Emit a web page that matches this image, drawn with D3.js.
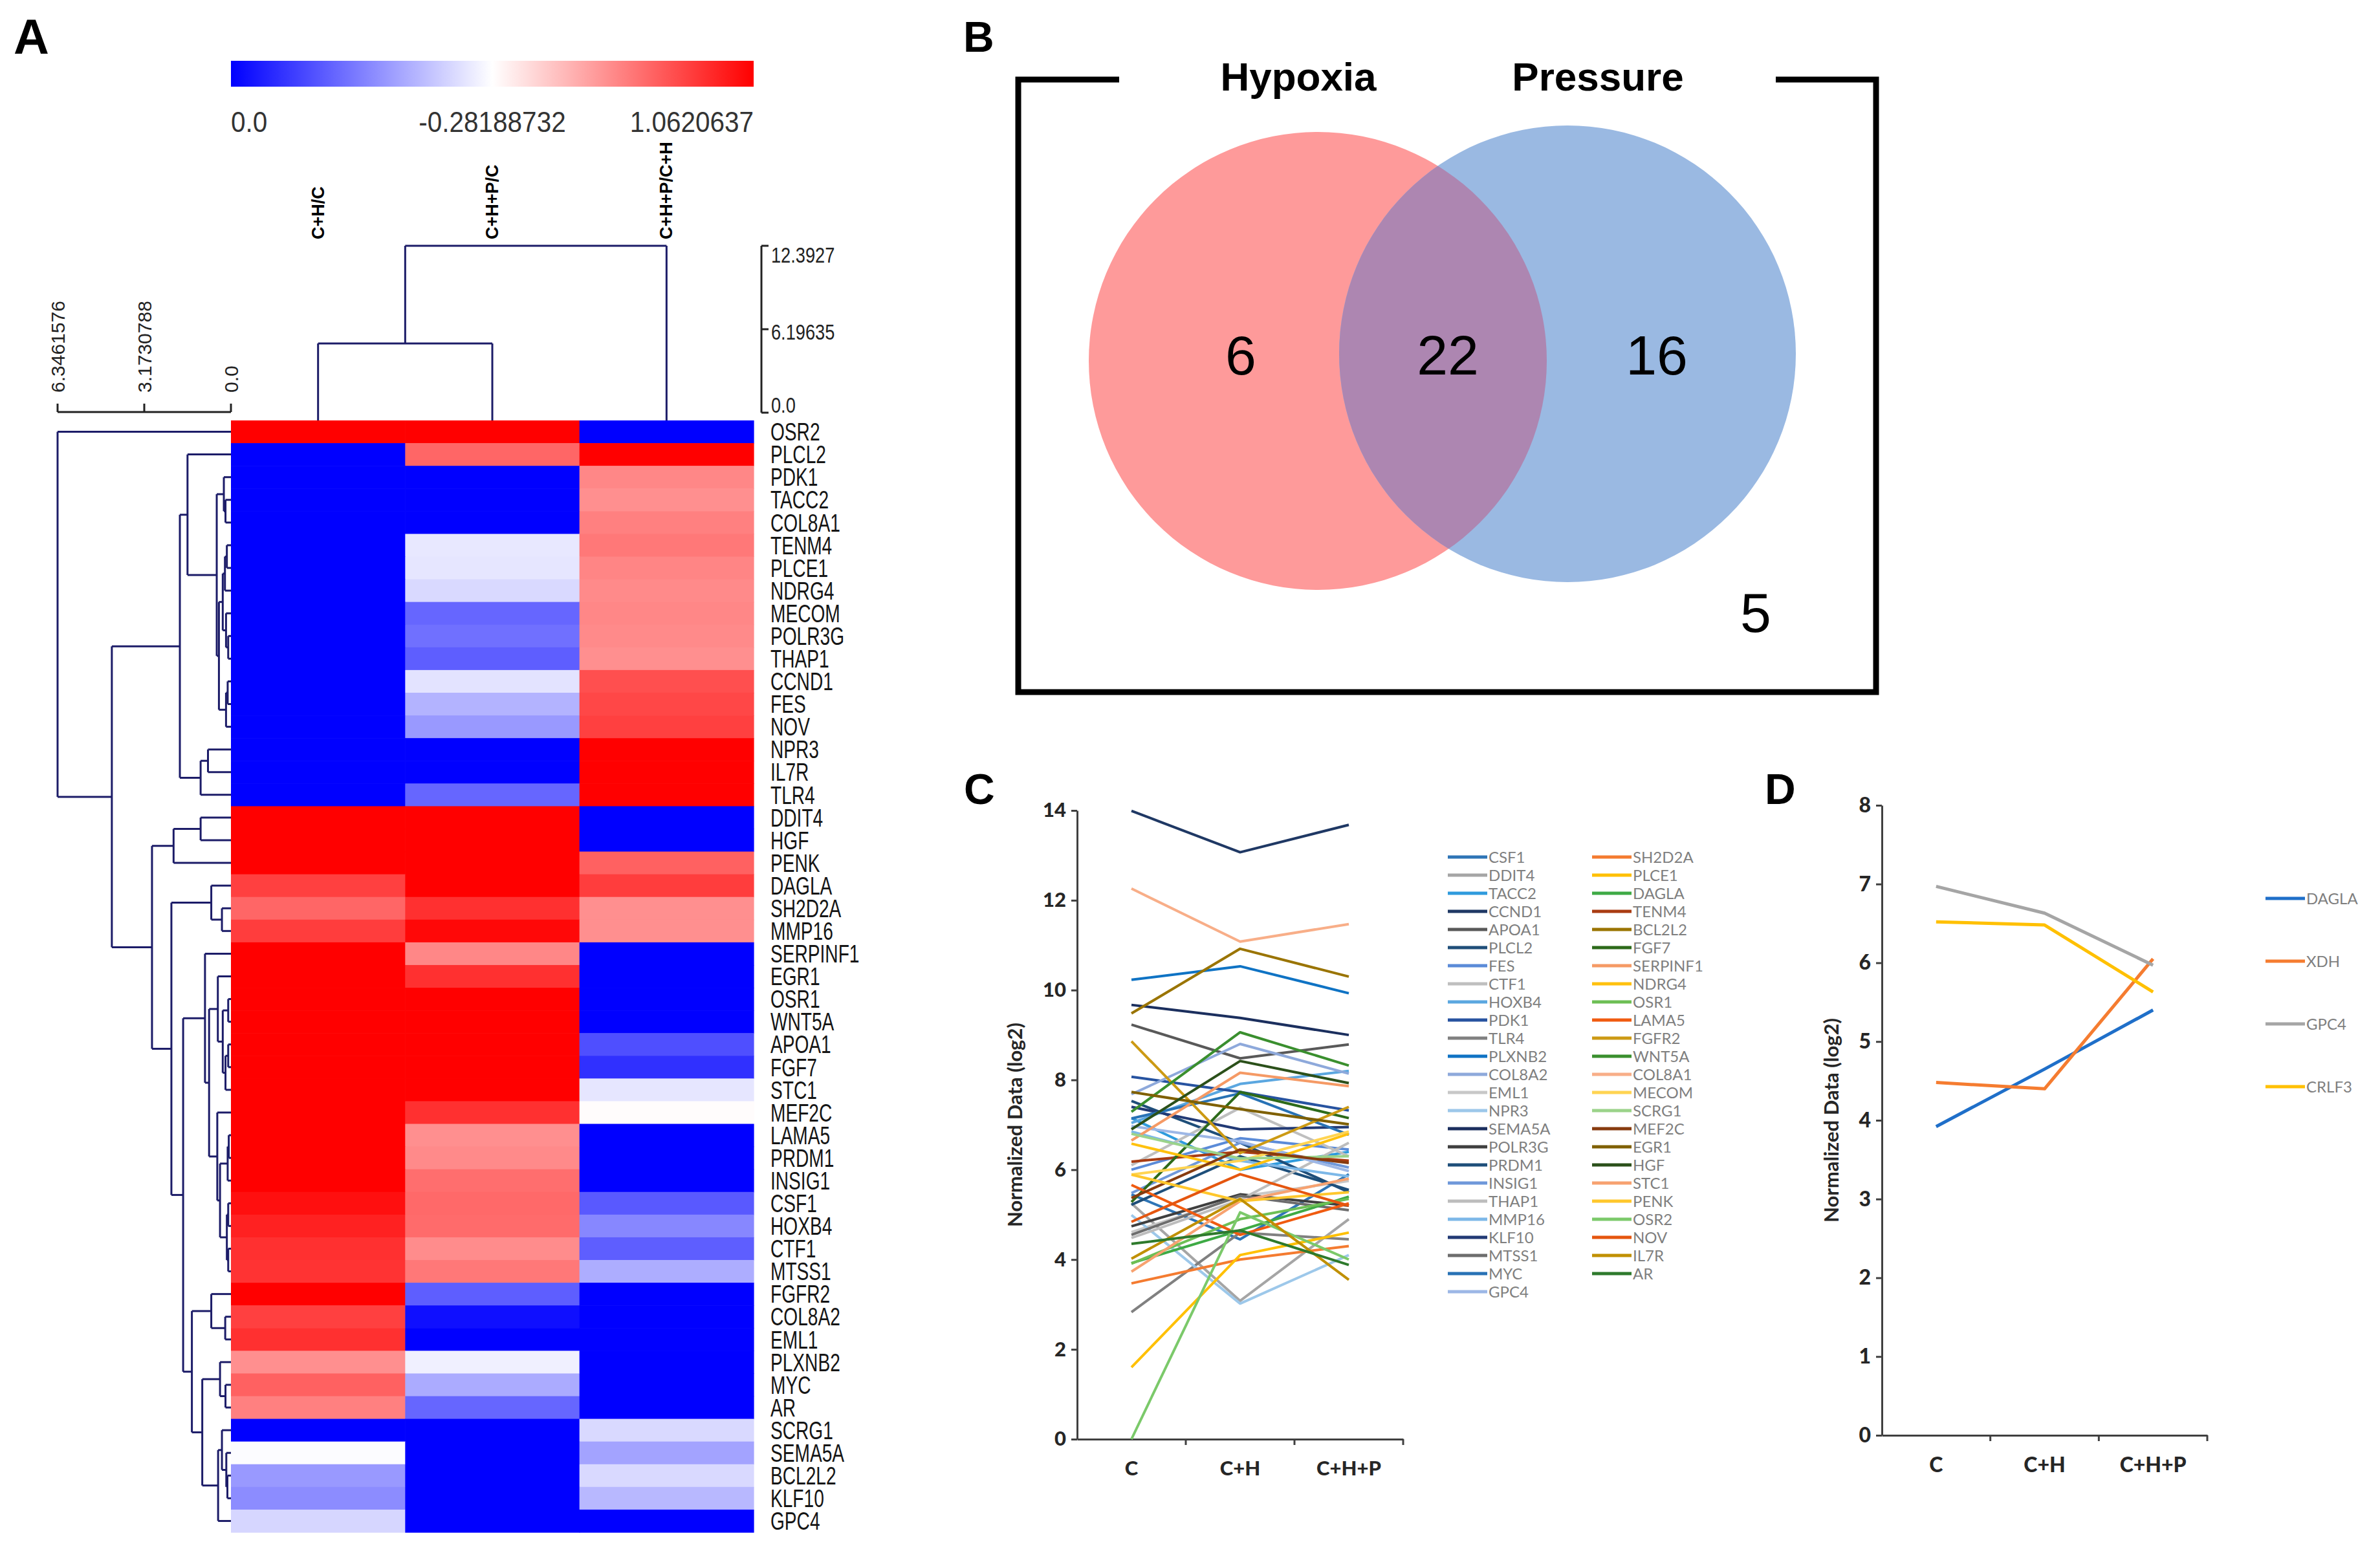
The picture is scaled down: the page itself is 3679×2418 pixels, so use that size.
<!DOCTYPE html>
<html>
<head>
<meta charset="utf-8">
<script src="https://cdn.jsdelivr.net/npm/d3@7"></script>
<style>
  body { margin: 0; background: #fff; }
  svg { display: block; }
</style>
</head>
<body>
<svg id="fig" width="3679" height="2418"></svg>
<script>
// ---------- data ----------
const genes = ["OSR2","PLCL2","PDK1","TACC2","COL8A1","TENM4","PLCE1","NDRG4","MECOM","POLR3G","THAP1",
  "CCND1","FES","NOV","NPR3","IL7R","TLR4","DDIT4","HGF","PENK","DAGLA","SH2D2A","MMP16","SERPINF1",
  "EGR1","OSR1","WNT5A","APOA1","FGF7","STC1","MEF2C","LAMA5","PRDM1","INSIG1","CSF1","HOXB4","CTF1",
  "MTSS1","FGFR2","COL8A2","EML1","PLXNB2","MYC","AR","SCRG1","SEMA5A","BCL2L2","KLF10","GPC4"];
const ratioCols = ["C+H/C", "C+H+P/C", "C+H+P/C+H"];
// colour value per gene: -1 = full blue, 0 = white, 1 = full red
const heatValues = [
  [1,1,-1],[-1,0.6,1],[-1,-1,0.47],[-1,-1,0.44],[-1,-1,0.5],[-1,-0.09,0.53],[-1,-0.1,0.48],
  [-1,-0.15,0.46],[-1,-0.6,0.47],[-1,-0.56,0.46],[-1,-0.63,0.44],[-1,-0.11,0.69],[-1,-0.3,0.72],
  [-1,-0.4,0.75],[-1,-1,1],[-1,-1,1],[-1,-0.6,1],[1,1,-1],[1,1,-1],[1,1,0.62],[0.75,1,0.76],
  [0.6,0.81,0.44],[0.76,0.97,0.44],[1,0.47,-1],[1,0.81,-1],[1,1,-1],[1,1,-1],[1,1,-0.69],
  [1,1,-0.81],[1,1,-0.1],[1,0.81,0.01],[1,0.44,-1],[1,0.46,-1],[1,0.57,-1],[0.94,0.59,-0.65],
  [0.87,0.58,-0.47],[0.81,0.45,-0.63],[0.8,0.53,-0.32],[1,-0.63,-1],[0.75,-0.94,-1],[0.81,-1,-1],
  [0.44,-0.06,-1],[0.62,-0.33,-1],[0.5,-0.6,-1],[-1,-1,-0.15],[-0.01,-1,-0.36],[-0.4,-1,-0.15],
  [-0.45,-1,-0.28],[-0.16,-1,-1]];
const colorbarLabels = ["0.0", "-0.28188732", "1.0620637"];
const rowScaleTicks = [6.3461576, 3.1730788, 0.0];
const colScaleTicks = [12.3927, 6.19635, 0.0];
// dendrograms: [left, right, height]
const colTree = [["C+H/C", "C+H+P/C", 5.14], "C+H+P/C+H", 12.3927];
const rowTree = ["OSR2",
  [
    [["PLCL2", [["PDK1", ["TACC2","COL8A1",0.2], 0.26],
                [[[["TENM4","PLCE1",0.15],"NDRG4",0.22], ["MECOM",["POLR3G","THAP1",0.1],0.18], 0.3],
                 [["CCND1","FES",0.12],"NOV",0.18], 0.44], 0.52], 1.59],
     [["NPR3","IL7R",0.84],"TLR4",1.11], 1.87],
    [[["DDIT4","HGF",1.11],"PENK",2.1],
     [["DAGLA",["SH2D2A","MMP16",0.33],0.72],
      [["SERPINF1",
         [["EGR1", [["OSR1","WNT5A",0.1],[["APOA1","FGF7",0.1],"STC1",0.2],0.3], 0.48],
          ["MEF2C", [[["LAMA5","PRDM1",0.08],"INSIG1",0.12],[["CSF1","HOXB4",0.1],["CTF1","MTSS1",0.1],0.15],0.4], 0.5],
          0.8], 0.95],
       [["FGFR2",["COL8A2","EML1",0.21],0.72],
        [["PLXNB2",["MYC","AR",0.2],0.4],
         [["SCRG1",["SEMA5A",["BCL2L2","KLF10",0.13],0.17],0.33],"GPC4",0.47], 1.05], 1.43], 1.75], 2.18], 2.89],
    4.36],
  6.3461576];

const vennNames = ["Hypoxia", "Pressure"];
const vennCounts = { hypoxiaOnly: 6, both: 22, pressureOnly: 16, neither: 5 };

const conditions = ["C", "C+H", "C+H+P"];
const profileGenes = ["CSF1","DDIT4","TACC2","CCND1","APOA1","PLCL2","FES","CTF1","HOXB4","PDK1","TLR4",
  "PLXNB2","COL8A2","EML1","NPR3","SEMA5A","POLR3G","PRDM1","INSIG1","THAP1","MMP16","KLF10","MTSS1","MYC","GPC4",
  "SH2D2A","PLCE1","DAGLA","TENM4","BCL2L2","FGF7","SERPINF1","NDRG4","OSR1","LAMA5","FGFR2","WNT5A","COL8A1",
  "MECOM","SCRG1","MEF2C","EGR1","HGF","STC1","PENK","OSR2","NOV","IL7R","AR"];
const profileValues = [
  [5.45,4.45,5.9],[5.25,3.08,4.9],[7.15,6.0,6.4],[13.99,13.07,13.68],[9.23,8.48,8.79],[7.53,6.6,5.5],
  [6.0,6.7,6.45],[6.1,7.38,6.3],[7.04,7.91,8.2],[8.07,7.73,7.32],[2.83,4.6,4.45],[10.23,10.53,9.93],
  [7.68,8.8,8.14],[4.61,5.4,5.75],[4.99,3.02,4.1],[9.67,9.38,9.0],[4.74,5.45,5.2],[5.22,6.3,5.55],
  [5.48,6.6,6.05],[4.48,5.33,6.6],[6.85,6.2,5.85],[7.4,6.9,6.95],[4.55,5.42,5.1],[7.14,7.7,6.78],
  [6.97,6.63,5.97],
  [3.47,4.0,4.3],[1.6,4.1,4.6],[3.92,4.65,5.4],[6.18,6.4,6.2],[9.48,10.92,10.3],[5.28,7.73,7.15],
  [6.65,8.16,7.86],[6.58,6.0,6.8],[3.91,4.9,5.35],[5.66,4.55,5.25],[8.86,6.37,7.4],[7.29,9.06,8.32],
  [12.26,11.08,11.47],[5.89,6.2,6.85],[6.8,6.25,6.3],[5.37,6.45,6.15],[7.73,7.35,7.01],[6.9,8.42,7.93],
  [3.73,5.3,5.8],[5.89,5.3,5.5],[0,5.05,4.0],[4.84,5.9,5.2],[4.02,5.35,3.55],[4.35,4.65,3.88]];
const profileColors = ["#2E75B6","#A5A5A5","#2F9BDD","#1F3864","#595959","#1F4E79","#5B8BD8","#BFBFBF",
  "#5BA7E0","#2753A0","#808080","#0F73C4","#8EA9DB","#C8C8C8","#9DC8EA","#1B2F5E","#3F3F3F","#1E4F7A",
  "#6F98DA","#BDBDBD","#7DB8E8","#223A75","#6D6D6D","#2872B5","#9DB7E6",
  "#F47B30","#FFC000","#3EAA45","#A93C12","#9A7400","#2D6A1A","#F59A65","#FFC10E","#6DBF55","#F05B10",
  "#CC9A14","#3A8F2E","#F8AE88","#FFD452","#9BD38A","#873B0F","#7F6000","#2B501A","#F7A270","#FFC72C",
  "#7BC96A","#E5560F","#C09000","#2E7A2C"];

const focusGenes = ["DAGLA", "XDH", "GPC4", "CRLF3"];
const focusValues = [[3.92,4.65,5.4],[4.48,4.4,6.05],[6.97,6.63,5.97],[6.52,6.48,5.63]];
const focusColors = ["#1F6FC9", "#F57C30", "#A5A5A5", "#FFC000"];

// ---------- drawing ----------
const svg = d3.select("#fig");
const sans = "Liberation Sans, Arial, sans-serif";
const excel = "Lato, 'Open Sans', sans-serif";
const navy = "#1c1c68";

// panel letters
svg.append("g").attr("font-family", sans).attr("font-weight", "bold")
  .selectAll("text")
  .data([["A",21,83,76],["B",1489,80,66],["C",1490,1243,66],["D",2728,1243,66]])
  .join("text")
  .attr("x", d => d[1]).attr("y", d => d[2]).attr("font-size", d => d[3])
  .text(d => d[0]);

// ===== Panel A: heatmap =====
const hmX = d3.scaleBand().domain(ratioCols).range([357, 1165]);
const hmY = d3.scaleBand().domain(genes).range([650, 2369]);
const heat = d3.scaleLinear().domain([-1, 0, 1]).range(["#0000ff", "#ffffff", "#ff0000"]);

const cells = genes.flatMap((g, i) => ratioCols.map((c, j) => ({ g, c, v: heatValues[i][j] })));
svg.append("g").selectAll("rect").data(cells).join("rect")
  .attr("x", d => hmX(d.c)).attr("y", d => hmY(d.g))
  .attr("width", hmX.bandwidth() + 0.6).attr("height", hmY.bandwidth() + 0.6)
  .attr("fill", d => heat(d.v));

// row labels (condensed)
svg.append("g").attr("font-family", sans).attr("font-size", 38).attr("fill", "#151515")
  .selectAll("text").data(genes).join("text")
  .attr("transform", d => `translate(1191,${hmY(d) + hmY.bandwidth() / 2}) scale(0.74,1)`)
  .attr("dy", "0.36em")
  .text(d => d);

// column labels
svg.append("g").attr("font-family", sans).attr("font-size", 27).attr("font-weight", "bold")
  .selectAll("text").data(ratioCols).join("text")
  .attr("transform", d => `translate(${hmX(d) + hmX.bandwidth() / 2 + 9},370) rotate(-90)`)
  .text(d => d);

// colour bar
const defs = svg.append("defs");
const grad = defs.append("linearGradient").attr("id", "cbar");
grad.selectAll("stop").data([-1, -0.5, 0, 0.5, 1]).join("stop")
  .attr("offset", d => ((d + 1) / 2 * 100) + "%")
  .attr("stop-color", d => heat(d));
svg.append("rect").attr("x", 357).attr("y", 94).attr("width", 808).attr("height", 40)
  .attr("fill", "url(#cbar)");
svg.append("g").attr("font-family", sans).attr("font-size", 44).attr("fill", "#333")
  .selectAll("text").data(colorbarLabels).join("text")
  .attr("transform", (d, i) => `translate(${[357, 761, 1165][i]},204) scale(0.92,1)`)
  .attr("text-anchor", (d, i) => ["start", "middle", "end"][i])
  .text(d => d);

// dendrogram helper: hScale maps height, leafPos maps leaf name, leafEdge = where leaves end
function dendroSegments(tree, leafPos, hScale, leafEdge) {
  const root = d3.hierarchy(tree, d => Array.isArray(d) ? d.slice(0, 2) : null);
  root.eachAfter(n => {
    if (!n.children) { n.pos = leafPos(n.data); n.h = 0; }
    else { n.pos = d3.mean(n.children, c => c.pos); n.h = n.data[2]; }
  });
  const segs = [];
  root.each(n => {
    if (!n.children) return;
    const hp = hScale(n.h);
    segs.push([hp, n.children[0].pos, hp, n.children[1].pos]);
    n.children.forEach(c => segs.push([hp, c.pos, c.children ? hScale(c.h) : leafEdge, c.pos]));
  });
  return segs;
}

// row dendrogram
const rowH = d3.scaleLinear().domain([0, 6.3461576]).range([357, 89]);
const rowSegs = dendroSegments(rowTree, g => hmY(g) + hmY.bandwidth() / 2, rowH, 357);
svg.append("g").attr("stroke", navy).attr("stroke-width", 3).attr("fill", "none")
  .selectAll("line").data(rowSegs).join("line")
  .attr("x1", d => d[0]).attr("y1", d => d[1]).attr("x2", d => d[2]).attr("y2", d => d[3]);

// row dendrogram scale
const rs = svg.append("g").attr("stroke", "#222").attr("stroke-width", 3);
rs.append("line").attr("x1", rowH(rowScaleTicks[0])).attr("x2", rowH(0)).attr("y1", 637).attr("y2", 637);
rs.selectAll(".tk").data(rowScaleTicks).join("line").attr("class", "tk")
  .attr("x1", d => rowH(d)).attr("x2", d => rowH(d)).attr("y1", 637).attr("y2", 624);
svg.append("g").attr("font-family", sans).attr("font-size", 30).attr("fill", "#222")
  .selectAll("text").data(rowScaleTicks).join("text")
  .attr("transform", d => `translate(${rowH(d) + 11},607) rotate(-90)`)
  .text(d => d === 0 ? "0.0" : d);

// column dendrogram
const colH = d3.scaleLinear().domain([0, 12.3927]).range([638, 380]);
const colSegs = dendroSegments(colTree, c => hmX(c) + hmX.bandwidth() / 2, colH, 650);
svg.append("g").attr("stroke", navy).attr("stroke-width", 3).attr("fill", "none")
  .selectAll("line").data(colSegs).join("line")
  .attr("y1", d => d[0]).attr("x1", d => d[1]).attr("y2", d => d[2]).attr("x2", d => d[3]);

// column dendrogram scale
const cs = svg.append("g").attr("stroke", "#222").attr("stroke-width", 3);
cs.append("line").attr("x1", 1177).attr("x2", 1177).attr("y1", colH(colScaleTicks[0])).attr("y2", colH(0));
cs.selectAll(".tk").data(colScaleTicks).join("line").attr("class", "tk")
  .attr("x1", 1177).attr("x2", 1188).attr("y1", d => colH(d)).attr("y2", d => colH(d));
svg.append("g").attr("font-family", sans).attr("font-size", 34).attr("fill", "#222")
  .selectAll("text").data(colScaleTicks).join("text")
  .attr("transform", (d, i) => `translate(1192,${colH(d) + [14, 4, -12][i]}) scale(0.8,1)`)
  .attr("dy", "0.36em")
  .text(d => d === 0 ? "0.0" : d);

// ===== Panel B: Venn =====
const vb = svg.append("g");
vb.append("path")
  .attr("d", "M1730,123 H1574 V1070 H2900 V123 H2745")
  .attr("fill", "none").attr("stroke", "#000").attr("stroke-width", 9);
const vennCircles = [
  { cx: 2037, cy: 558, r: 354, fill: "#FE9A9A" },
  { cx: 2423, cy: 547, r: 353, fill: "#9AB9E2" }];
defs.append("clipPath").attr("id", "clipBlue").append("circle")
  .attr("cx", vennCircles[1].cx).attr("cy", vennCircles[1].cy).attr("r", vennCircles[1].r);
vb.selectAll("circle").data(vennCircles).join("circle")
  .attr("cx", d => d.cx).attr("cy", d => d.cy).attr("r", d => d.r).attr("fill", d => d.fill);
vb.append("circle").attr("cx", vennCircles[0].cx).attr("cy", vennCircles[0].cy).attr("r", vennCircles[0].r)
  .attr("fill", "#AD86B1").attr("clip-path", "url(#clipBlue)");
vb.append("g").attr("font-family", sans).attr("font-weight", "bold").attr("font-size", 62)
  .attr("text-anchor", "middle")
  .selectAll("text").data(vennNames).join("text")
  .attr("x", (d, i) => [2007, 2470][i]).attr("y", 140).text(d => d);
const vennNums = [
  [vennCounts.hypoxiaOnly, 1918, 579], [vennCounts.both, 2238, 579],
  [vennCounts.pressureOnly, 2561, 579], [vennCounts.neither, 2714, 977]];
vb.append("g").attr("font-family", sans).attr("font-size", 86).attr("text-anchor", "middle")
  .selectAll("text").data(vennNums).join("text")
  .attr("x", d => d[1]).attr("y", d => d[2]).text(d => d[0]);

// ===== Line charts (C and D) =====
function lineChart(opt) {
  const g = svg.append("g");
  const x = d3.scaleBand().domain(conditions).range(opt.xr);
  const y = d3.scaleLinear().domain([0, opt.ymax]).range(opt.yr);
  const ya = g.append("g").attr("transform", `translate(${opt.xr[0]},0)`)
    .call(d3.axisLeft(y).tickValues(d3.range(0, opt.ymax + 1, opt.step)).tickSize(9).tickSizeOuter(0).tickPadding(8));
  const xa = g.append("g").attr("transform", `translate(0,${opt.yr[0]})`)
    .call(d3.axisBottom(x).tickSize(0).tickSizeOuter(0).tickPadding(34));
  g.append("g").attr("stroke", "#404040").attr("stroke-width", 3)
    .selectAll("line").data(conditions).join("line")
    .attr("x1", d => x(d) + x.step()).attr("x2", d => x(d) + x.step())
    .attr("y1", opt.yr[0]).attr("y2", opt.yr[0] + 9);
  [ya, xa].forEach(a => {
    a.select(".domain").attr("stroke", "#404040").attr("stroke-width", 3);
    a.selectAll(".tick line").attr("stroke", "#404040").attr("stroke-width", 3);
    a.selectAll(".tick text").attr("font-family", excel).attr("font-weight", "900")
      .attr("font-size", opt.fs).attr("fill", "#262626");
  });
  g.append("text")
    .attr("transform", `translate(${opt.titleX},${(opt.yr[0] + opt.yr[1]) / 2}) rotate(-90)`)
    .attr("text-anchor", "middle").attr("dy", "0.35em")
    .attr("font-family", excel).attr("font-weight", "bold").attr("font-size", 31).attr("fill", "#262626")
    .text("Normalized Data (log2)");
  const line = d3.line().x((v, i) => x(conditions[i]) + x.bandwidth() / 2).y(v => y(v));
  g.append("g").attr("fill", "none").attr("stroke-width", opt.lw).attr("stroke-linejoin", "round")
    .selectAll("path").data(opt.values).join("path")
    .attr("d", line).attr("stroke", (d, i) => opt.colors[i]);
  // legend
  const leg = g.append("g").selectAll("g").data(opt.names).join("g")
    .attr("transform", (d, i) => `translate(${opt.legX(i)},${opt.legY(i)})`);
  leg.append("line").attr("x1", 0).attr("x2", 61).attr("stroke-width", 5)
    .attr("stroke", (d, i) => opt.colors[i]);
  leg.append("text").attr("x", 63).attr("dy", "0.36em")
    .attr("font-family", excel).attr("font-size", 24).attr("fill", "#7F7F7F")
    .text(d => d);
}

lineChart({
  xr: [1665, 2169], yr: [2225, 1253], ymax: 14, step: 2, fs: 31, titleX: 1569, lw: 4,
  values: profileValues, colors: profileColors, names: profileGenes,
  legX: i => i < 25 ? 2238 : 2461, legY: i => 1325 + (i % 25) * 28
});

lineChart({
  xr: [2909, 3412], yr: [2219, 1245], ymax: 8, step: 1, fs: 32, titleX: 2831, lw: 5,
  values: focusValues, colors: focusColors, names: focusGenes,
  legX: () => 3502, legY: i => 1389 + i * 97
});
</script>
</body>
</html>
